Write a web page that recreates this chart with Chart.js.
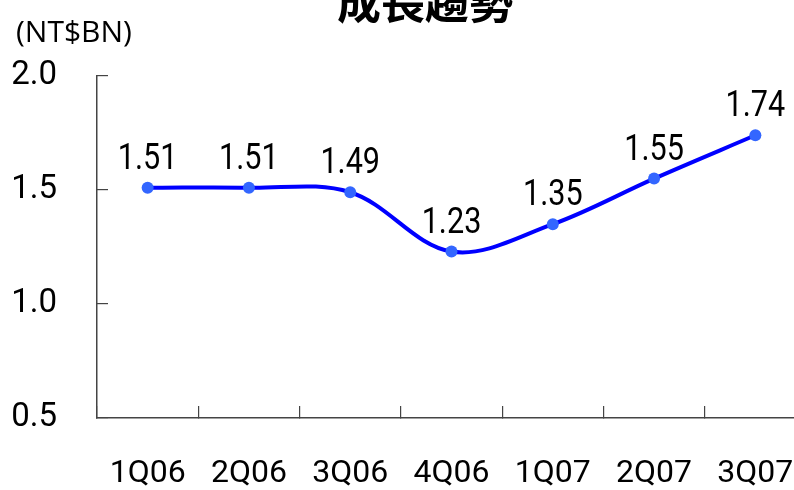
<!DOCTYPE html>
<html>
<head>
<meta charset="utf-8">
<script src="https://cdn.jsdelivr.net/npm/chart.js@4.4.1/dist/chart.umd.min.js"></script>
<style>
  html, body { margin: 0; padding: 0; background: #fff; }
  #wrap { width: 794px; height: 490px; overflow: hidden; position: relative; }
</style>
</head>
<body>
<div id="wrap">
  <canvas id="growthChart" width="820" height="490"></canvas>
</div>
<script>
// chart data
var quarters = ['1Q06', '2Q06', '3Q06', '4Q06', '1Q07', '2Q07', '3Q07'];
var revenue = [1.51, 1.51, 1.49, 1.23, 1.35, 1.55, 1.74];
var yTicks = [0.5, 1.0, 1.5, 2.0];
var chartTitle = '成長趨勢';
var unitLabel = '(NT$BN)';

// title, unit label and the value labels above each point
var textPlugin = {
    id: 'textPlugin',
    afterDatasetsDraw: function (chart) {
        var ctx = chart.ctx;
        ctx.save();
        ctx.fillStyle = '#000';

        ctx.font = 'bold 44px "Noto Sans CJK TC"';
        ctx.textAlign = 'center';
        ctx.textBaseline = 'alphabetic';
        ctx.fillText(chartTitle, 425, 19);

        ctx.font = '30px "Open Sans"';
        ctx.textAlign = 'left';
        ctx.fillText(unitLabel, 16, 42);

        // narrow digits like the original
        ctx.font = '36px Roboto';
        ctx.textAlign = 'center';
        var meta = chart.getDatasetMeta(0);
        meta.data.forEach(function (pt, i) {
            ctx.save();
            ctx.translate(pt.x, pt.y - 19);
            ctx.scale(0.85, 1);
            ctx.fillText(revenue[i].toFixed(2), 0, 0);
            ctx.restore();
        });
        ctx.restore();
    }
};

const growthChart = document.getElementById('growthChart');
new Chart(growthChart, {
    type: 'line',
    data: {
        labels: quarters,
        datasets: [{
            label: 'Revenue',
            data: revenue,
            borderColor: '#0000FF',
            borderWidth: 4,
            tension: 0.35,
            pointRadius: 6,
            pointHoverRadius: 6,
            pointBackgroundColor: '#3366FF',
            pointBorderColor: '#3366FF',
            pointBorderWidth: 0,
            fill: false
        }]
    },
    options: {
        responsive: false,
        animation: false,
        layout: {
            padding: { top: 76, right: 14, left: 0, bottom: 0 }
        },
        plugins: {
            legend: { display: false },
            title: { display: false },
            tooltip: { enabled: false }
        },
        scales: {
            x: {
                offset: true,
                grid: {
                    offset: true,
                    drawOnChartArea: false,
                    drawTicks: true,
                    tickLength: -12,
                    color: '#444',
                    lineWidth: 1.2
                },
                border: { display: true, color: '#444', width: 1.5 },
                ticks: {
                    color: '#000',
                    padding: 49,
                    maxRotation: 0,
                    font: { family: 'Roboto', size: 32 }
                },
                afterFit: function (scale) {
                    scale.height = 72;
                    scale.paddingLeft = 0;
                    scale.paddingRight = 0;
                }
            },
            y: {
                min: 0.5,
                max: 2.0,
                grid: {
                    drawOnChartArea: false,
                    drawTicks: true,
                    tickLength: -11,
                    color: '#444',
                    lineWidth: 1.2
                },
                border: { display: true, color: '#444', width: 1.5 },
                afterBuildTicks: function (scale) {
                    scale.ticks = yTicks.map(function (v) { return { value: v }; });
                },
                ticks: {
                    color: '#000',
                    padding: 51,
                    font: { family: 'Roboto', size: 33 },
                    callback: function (v) { return Number(v).toFixed(1); }
                },
                afterFit: function (scale) {
                    scale.width = 97;
                    scale.paddingTop = 0;
                    scale.paddingBottom = 0;
                }
            }
        }
    },
    plugins: [textPlugin]
});
</script>
</body>
</html>
